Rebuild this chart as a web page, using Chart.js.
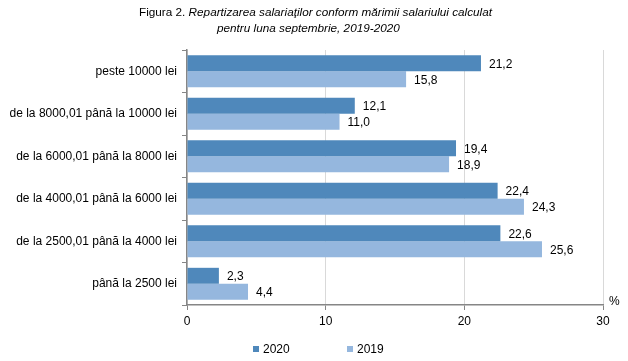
<!DOCTYPE html>
<html>
<head>
<meta charset="utf-8">
<script src="https://cdn.jsdelivr.net/npm/chart.js@4/dist/chart.umd.min.js"></script>
<style>
  html, body { margin: 0; padding: 0; background: #fff; }
  #wrap { width: 628px; height: 361px; position: relative; }
</style>
</head>
<body>
<div id="wrap"><canvas id="salary-canvas"></canvas></div>
<script>
// categories, top to bottom
var categories = ['peste 10000 lei', 'de la 8000,01 până la 10000 lei', 'de la 6000,01 până la 8000 lei',
  'de la 4000,01 până la 6000 lei', 'de la 2500,01 până la 4000 lei', 'până la 2500 lei'];
var values2020 = [21.2, 12.1, 19.4, 22.4, 22.6, 2.3];
var values2019 = [15.8, 11.0, 18.9, 24.3, 25.6, 4.4];
var seriesNames = ['2020', '2019'];
var xTicks = [0, 10, 20, 30];

var FONT = '"Liberation Sans", Arial, sans-serif';
var AXIS = '#868686';

// title, value labels, legend and % sign
var extras = {
  id: 'extras',
  afterDatasetsDraw: function (chart) {
    var ctx = chart.ctx;
    ctx.save();
    ctx.fillStyle = '#000';
    ctx.font = '12px ' + FONT;
    ctx.textAlign = 'left';
    ctx.textBaseline = 'middle';
    chart.data.datasets.forEach(function (ds, i) {
      chart.getDatasetMeta(i).data.forEach(function (bar, j) {
        ctx.fillText(ds.data[j].toFixed(1).replace('.', ','), bar.x + 8, bar.y + 1);
      });
    });
    ctx.restore();
  },
  afterDraw: function (chart) {
    var ctx = chart.ctx;
    ctx.save();
    ctx.fillStyle = '#000';
    ctx.textBaseline = 'middle';
    // title line 1 (mixed normal / italic), squeezed
    var p1 = 'Figura 2. ', p2 = 'Repartizarea salariaţilor conform mărimii salariului calculat';
    var fN = '11px ' + FONT, fI = 'italic 11px ' + FONT;
    ctx.font = fN; var w1 = ctx.measureText(p1).width;
    ctx.font = fI; var w2 = ctx.measureText(p2).width;
    var k = 353 / (w1 + w2);
    ctx.save();
    ctx.translate(139, 13);
    ctx.scale(k, 1);
    ctx.textAlign = 'left';
    ctx.font = fN; ctx.fillText(p1, 0, 0);
    ctx.font = fI; ctx.fillText(p2, w1, 0);
    ctx.restore();
    var t2 = 'pentru luna septembrie, 2019-2020';
    ctx.font = fI;
    var w3 = ctx.measureText(t2).width;
    ctx.save();
    ctx.translate(217, 29);
    ctx.scale(k, 1);
    ctx.fillText(t2, 0, 0);
    ctx.restore();

    // percent sign
    ctx.font = '12px ' + FONT;
    ctx.textAlign = 'left';
    ctx.fillText('%', chart.chartArea.right + 6, chart.chartArea.bottom - 3);

    // legend
    var lx = [253, 347];
    chart.data.datasets.forEach(function (ds, i) {
      ctx.fillStyle = ds.backgroundColor;
      ctx.fillRect(lx[i], 346, 6, 6);
      ctx.fillStyle = '#000';
      ctx.fillText(ds.label, lx[i] + 10, 350);
    });
    ctx.restore();
  }
};

var ctx = document.getElementById('salary-canvas').getContext('2d');
var chart = new Chart(ctx, {
  type: 'bar',
  data: {
    labels: categories,
    datasets: [
      { label: seriesNames[0], data: values2020, backgroundColor: '#4F88BB' },
      { label: seriesNames[1], data: values2019, backgroundColor: '#95B7DE' }
    ]
  },
  options: {
    indexAxis: 'y',
    responsive: true,
    maintainAspectRatio: false,
    animation: false,
    categoryPercentage: 0.75,
    barPercentage: 1,
    layout: { padding: { top: 50, right: 25, bottom: 0, left: 0 } },
    plugins: { legend: { display: false }, tooltip: { enabled: false }, title: { display: false } },
    scales: {
      x: {
        min: 0, max: 30,
        afterBuildTicks: function (scale) {
          scale.ticks = xTicks.map(function (v) { return { value: v }; });
        },
        afterFit: function (scale) { scale.height = 56; },
        ticks: { color: '#000', font: { family: FONT, size: 12 }, padding: 4 },
        grid: { color: '#D9D9D9', tickColor: AXIS, tickLength: 5, drawTicks: true },
        border: { color: AXIS, width: 1.5 }
      },
      y: {
        afterFit: function (scale) { scale.width = 187; },
        ticks: { color: '#000', font: { family: FONT, size: 12 }, padding: 5 },
        grid: { drawOnChartArea: false, tickColor: AXIS, tickLength: 5, offset: true },
        border: { color: AXIS, width: 1.5 }
      }
    }
  },
  plugins: [extras]
});
</script>
</body>
</html>
